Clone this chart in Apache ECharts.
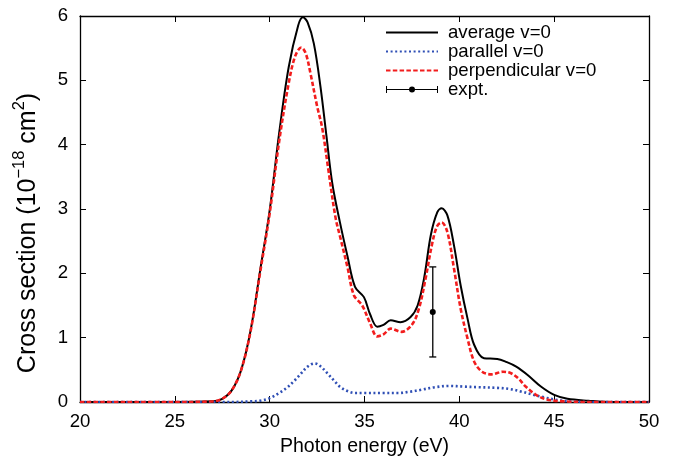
<!DOCTYPE html>
<html><head><meta charset="utf-8">
<script src="https://cdn.jsdelivr.net/npm/echarts@6/dist/echarts.min.js"></script>
<style>html,body{margin:0;padding:0;background:#fff}#c{width:684px;height:462px}</style>
</head><body><div id="c"></div>
<script>
// x ticks / y ticks
const xTicks = [20, 25, 30, 35, 40, 45, 50];
const yTicks = [0, 1, 2, 3, 4, 5, 6];

// average v=0 (black solid)
const avgX = [20, 25, 27, 27.5, 28, 28.5, 29, 29.5, 30, 30.5, 31, 31.5, 31.75, 32, 32.33, 32.68, 33, 33.3, 33.7, 34.1, 34.5, 34.97, 35.3, 35.67, 36, 36.38, 36.9, 37.43, 37.8, 38.14, 38.5, 38.84, 39.07, 39.37, 39.72, 40.07, 40.43, 40.78, 41.3, 42, 42.5, 43, 43.6, 44.3, 45, 45.7, 46.8, 48, 50];
const avgY = [0, 0, 0.01, 0.05, 0.18, 0.5, 1.12, 2.05, 2.98, 4.18, 5.2, 5.85, 5.98, 5.9, 5.57, 4.9, 4.12, 3.4, 2.8, 2.27, 1.79, 1.63, 1.36, 1.17, 1.2, 1.27, 1.24, 1.32, 1.5, 1.92, 2.6, 2.95, 3.01, 2.9, 2.43, 1.81, 1.3, 0.89, 0.68, 0.67, 0.62, 0.55, 0.42, 0.24, 0.11, 0.05, 0.02, 0, 0];

// parallel v=0 (blue dotted)
const paraX = [20, 28, 29, 29.5, 30, 30.5, 30.9, 31.3, 31.62, 32, 32.38, 32.7, 33.03, 33.4, 33.73, 34.1, 34.5, 35, 36, 36.8, 37.4, 38, 38.7, 39.5, 40.2, 41, 42, 42.7, 43.3, 43.8, 44.5, 45.2, 45.8, 47, 50];
const paraY = [0, 0, 0.01, 0.02, 0.06, 0.14, 0.22, 0.33, 0.43, 0.55, 0.6, 0.55, 0.45, 0.33, 0.23, 0.17, 0.14, 0.14, 0.14, 0.14, 0.16, 0.19, 0.23, 0.25, 0.24, 0.23, 0.22, 0.2, 0.16, 0.12, 0.07, 0.03, 0.01, 0, 0];

// perpendicular v=0 (red dashed)
const perpX = [20, 25, 27, 27.5, 28, 28.5, 29, 29.5, 30, 30.5, 31, 31.35, 31.67, 31.9, 32.15, 32.5, 32.77, 33.1, 33.47, 33.73, 34.1, 34.44, 34.88, 35.3, 35.67, 36, 36.38, 36.95, 37.5, 37.87, 38.22, 38.58, 38.84, 39.07, 39.37, 39.72, 40.07, 40.43, 40.78, 41.2, 41.7, 42.3, 42.7, 43.1, 43.5, 44, 44.6, 45.5, 47, 50];
const perpY = [0, 0, 0.01, 0.05, 0.18, 0.5, 1.11, 2.02, 2.93, 4.05, 4.95, 5.38, 5.51, 5.42, 5.11, 4.6, 4.26, 3.6, 2.87, 2.55, 2.1, 1.66, 1.5, 1.22, 1.02, 1.05, 1.14, 1.09, 1.2, 1.45, 1.92, 2.48, 2.74, 2.79, 2.64, 2.07, 1.45, 0.99, 0.63, 0.47, 0.43, 0.47, 0.45, 0.37, 0.24, 0.12, 0.04, 0.01, 0, 0];

// experiment
const exptX = [38.6];
const exptY = [1.4];
const exptErr = [0.7];

const pairs = (xs, ys) => xs.map((x, i) => [x, ys[i]]);
const FONT = 'Liberation Sans';
const FS = 18.6;
const YFS = 25;

const chart = echarts.init(document.getElementById('c'), null, {renderer: 'canvas'});
const axisCommon = {
  axisLine: {show: true, onZero: false, lineStyle: {color: '#000', width: 1.3}},
  axisTick: {show: true, inside: true, length: 6, lineStyle: {color: '#000', width: 1}},
  splitLine: {show: false}
};
const errIcon = 'path://M0,0H1V7H0Z M51,0H52V7H51Z M1,3H51V4H1Z M26,0.5A3,3 0 1,1 26,6.5A3,3 0 1,1 26,0.5Z';
chart.setOption({
  animation: false,
  backgroundColor: '#fff',
  textStyle: {fontFamily: FONT},
  grid: {left: 80, right: 35, top: 16, bottom: 58},
  legend: {
    orient: 'vertical', left: 385, top: 23, padding: 0, itemGap: 0,
    itemWidth: 52, itemHeight: 7,
    itemStyle: {opacity: 0},
    textStyle: {fontFamily: FONT, fontSize: FS, color: '#000', lineHeight: 18.5, padding: [0, 0, 0, 5]},
    data: [
      {name: 'average v=0'},
      {name: 'parallel v=0'},
      {name: 'perpendicular v=0'},
      {name: 'expt.', icon: errIcon, itemStyle: {opacity: 1, color: '#000'}}
    ]
  },
  xAxis: [
    Object.assign({type: 'value', min: xTicks[0], max: xTicks[xTicks.length - 1], interval: 5, position: 'bottom',
      name: 'Photon energy (eV)', nameLocation: 'middle', nameGap: 35,
      nameTextStyle: {fontFamily: FONT, fontSize: 19.5, color: '#000'},
      axisLabel: {fontFamily: FONT, fontSize: FS, color: '#000', margin: 10}}, axisCommon),
    Object.assign({type: 'value', min: xTicks[0], max: xTicks[xTicks.length - 1], interval: 5, position: 'top',
      axisLabel: {show: false}}, axisCommon)
  ],
  yAxis: [
    Object.assign({type: 'value', min: yTicks[0], max: yTicks[yTicks.length - 1], interval: 1, position: 'left',
      name: '{a|Cross section (10}{s|−18}{a| cm}{s|2}{a|)}', nameLocation: 'middle', nameGap: 35, nameRotate: 90,
      nameTextStyle: {fontFamily: FONT, fontSize: YFS, color: '#000', padding: [0, 48, 0, 0],
        rich: {a: {fontFamily: FONT, fontSize: YFS, color: '#000', verticalAlign: 'middle'},
               s: {fontFamily: FONT, fontSize: 16.5, color: '#000', verticalAlign: 'middle', padding: [0, 0, 17, 0]}}},
      axisLabel: {fontFamily: FONT, fontSize: FS, color: '#000', margin: 12}}, axisCommon),
    Object.assign({type: 'value', min: yTicks[0], max: yTicks[yTicks.length - 1], interval: 1, position: 'right',
      axisLabel: {show: false}}, axisCommon)
  ],
  series: [
    {name: 'average v=0', type: 'line', data: pairs(avgX, avgY), smooth: 0.35, symbol: 'none', clip: true,
      itemStyle: {color: '#000'}, lineStyle: {color: '#000', width: 2}, z: 2},
    {name: 'parallel v=0', type: 'line', data: pairs(paraX, paraY), smooth: 0.35, symbol: 'none', clip: true,
      itemStyle: {color: '#2f4fb5'}, lineStyle: {color: '#2f4fb5', width: 2.6, type: [2, 2.6]}, z: 3},
    {name: 'perpendicular v=0', type: 'line', data: pairs(perpX, perpY), smooth: 0.35, symbol: 'none', clip: true,
      itemStyle: {color: '#f21d1d'}, lineStyle: {color: '#f21d1d', width: 2.6, type: [4.5, 2.3]}, z: 4},
    {name: 'expt.', type: 'custom', itemStyle: {color: '#000'}, z: 5,
      data: exptX.map((x, i) => [x, exptY[i], exptErr[i]]),
      renderItem: function (params, api) {
        const x = api.value(0), y = api.value(1), e = api.value(2);
        const c = api.coord([x, y]);
        const t = api.coord([x, y + e]);
        const b = api.coord([x, y - e]);
        const cap = 3.5;
        const st = {stroke: '#000', lineWidth: 1.3};
        return {type: 'group', children: [
          {type: 'line', shape: {x1: c[0], y1: t[1], x2: c[0], y2: b[1]}, style: st},
          {type: 'line', shape: {x1: c[0] - cap, y1: t[1], x2: c[0] + cap, y2: t[1]}, style: st},
          {type: 'line', shape: {x1: c[0] - cap, y1: b[1], x2: c[0] + cap, y2: b[1]}, style: st},
          {type: 'circle', shape: {cx: c[0], cy: c[1], r: 3}, style: {fill: '#000'}}
        ]};
      }
    }
  ]
});
</script>
</body></html>
